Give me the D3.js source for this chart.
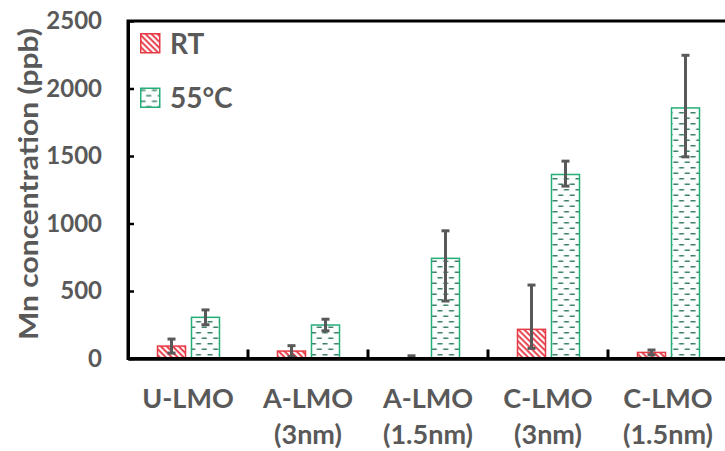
<!DOCTYPE html>
<html>
<head>
<meta charset="utf-8">
<script src="https://cdn.jsdelivr.net/npm/d3@7"></script>
<style>
  body { margin: 0; background: #ffffff; }
  text { font-family: Lato, "Open Sans", sans-serif; font-weight: bold; fill: #595959; }
</style>
</head>
<body>
<svg id="chart" width="725" height="451"></svg>
<script>
// Mn dissolution per sample, at room temperature and at 55 °C
const categories = ["U-LMO", "A-LMO (3nm)", "A-LMO (1.5nm)", "C-LMO (3nm)", "C-LMO (1.5nm)"];
const categoryLines = [["U-LMO"], ["A-LMO", "(3nm)"], ["A-LMO", "(1.5nm)"], ["C-LMO", "(3nm)"], ["C-LMO", "(1.5nm)"]];
const seriesNames = ["RT", "55°C"];

const rtValues    = [92, 55, 3, 216, 45];
const rtErrPlus   = [52, 40, 17, 328, 18];
const rtErrMinus  = [52, 40, 3, 141, 18];

const hotValues   = [305, 248, 742, 1363, 1856];
const hotErrPlus  = [55, 43, 204, 99, 390];
const hotErrMinus = [55, 43, 316, 86, 362];

const yTicks = [0, 500, 1000, 1500, 2000, 2500];
const yTitle = "Mn concentration (ppb)";

const svg = d3.select("#chart");

const x0 = d3.scaleBand().domain(categories).range([128, 728]).padding(0);
const x1 = d3.scaleBand().domain(seriesNames).range([29.5, 91.5]).paddingInner(0.176).paddingOuter(0);
const y = d3.scaleLinear().domain([0, 2500]).range([358.5, 21]);

// fill patterns
const defs = svg.append("defs");
const hatch = defs.append("pattern")
  .attr("id", "hatchRT").attr("patternUnits", "userSpaceOnUse")
  .attr("width", 4.2).attr("height", 4.2)
  .attr("patternTransform", "rotate(45)");
hatch.append("rect").attr("width", 4.2).attr("height", 4.2).attr("fill", "#ffffff");
hatch.append("rect").attr("y", 0).attr("width", 4.2).attr("height", 2).attr("fill", "#e8434f");

const dash = defs.append("pattern")
  .attr("id", "dashHot").attr("patternUnits", "userSpaceOnUse")
  .attr("width", 11.5).attr("height", 11);
dash.append("rect").attr("width", 11.5).attr("height", 11).attr("fill", "#fbfefc");
dash.append("rect").attr("x", 0.5).attr("y", 2).attr("width", 5).attr("height", 1.5).attr("fill", "#3f806a");
dash.append("rect").attr("x", 6.25).attr("y", 7.5).attr("width", 5).attr("height", 1.5).attr("fill", "#3f806a");

const series = [
  { name: seriesNames[0], values: rtValues, plus: rtErrPlus, minus: rtErrMinus, fill: "url(#hatchRT)", stroke: "#e63a44" },
  { name: seriesNames[1], values: hotValues, plus: hotErrPlus, minus: hotErrMinus, fill: "url(#dashHot)", stroke: "#25ae78" }
];

const rows = [];
series.forEach(s => categories.forEach((c, i) => rows.push({
  cat: c, name: s.name, v: s.values[i], p: s.plus[i], m: s.minus[i], fill: s.fill, stroke: s.stroke
})));

// bars
svg.append("g").selectAll("rect").data(rows).join("rect")
  .attr("x", d => x0(d.cat) + x1(d.name))
  .attr("y", d => y(d.v))
  .attr("width", x1.bandwidth())
  .attr("height", d => y(0) - y(d.v))
  .attr("fill", d => d.fill)
  .attr("stroke", d => d.stroke)
  .attr("stroke-width", 1.5);

// error bars
const eb = svg.append("g").attr("stroke", "#595959").attr("stroke-width", 3);
rows.forEach(d => {
  const cx = x0(d.cat) + x1(d.name) + x1.bandwidth() / 2;
  const top = y(d.v + d.p), bot = y(Math.max(0, d.v - d.m));
  eb.append("line").attr("x1", cx).attr("x2", cx).attr("y1", top).attr("y2", bot);
  eb.append("line").attr("x1", cx - 4).attr("x2", cx + 4).attr("y1", top).attr("y2", top);
  eb.append("line").attr("x1", cx - 4).attr("x2", cx + 4).attr("y1", bot).attr("y2", bot);
});

// frame (top border runs past the right edge)
svg.append("rect")
  .attr("x", x0.range()[0]).attr("y", y(2500))
  .attr("width", x0.range()[1] - x0.range()[0]).attr("height", y(0) - y(2500))
  .attr("fill", "none").attr("stroke", "#000").attr("stroke-width", 3);

// y axis, ticks pointing inward
const yAxis = svg.append("g").attr("transform", `translate(${x0.range()[0]},0)`)
  .call(d3.axisLeft(y).tickValues(yTicks).tickFormat(d3.format("d"))
    .tickSizeInner(-6).tickSizeOuter(0).tickPadding(26));
yAxis.select(".domain").attr("stroke", "#000").attr("stroke-width", 3);
yAxis.selectAll(".tick line").attr("stroke", "#000").attr("stroke-width", 2.5);
yAxis.selectAll(".tick text")
  .attr("fill", "#595959").style("font-family", "Lato, 'Open Sans', sans-serif")
  .style("font-weight", "bold").style("font-size", "24px");

// x axis with boundary ticks pointing up
const xAxis = svg.append("g").attr("transform", `translate(0,${y(0)})`)
  .call(d3.axisBottom(x0).tickValues([]).tickSizeOuter(0));
xAxis.select(".domain").attr("stroke", "#000").attr("stroke-width", 3.5);
xAxis.selectAll(".bnd").data(categories.slice(1)).join("line")
  .attr("class", "bnd")
  .attr("x1", d => x0(d)).attr("x2", d => x0(d))
  .attr("y1", 0).attr("y2", -9)
  .attr("stroke", "#000").attr("stroke-width", 3);

// category labels, centred under each group
const lab = svg.append("g").selectAll("text").data(categories).join("text")
  .attr("text-anchor", "middle")
  .style("font-size", "27px");
lab.each(function(d, i) {
  const t = d3.select(this);
  const cx = x0(d) + x0.bandwidth() / 2;
  categoryLines[i].forEach((ln, k) => {
    t.append("tspan").attr("x", cx).attr("y", 408 + k * 36).text(ln);
  });
});

// y axis title
svg.append("text")
  .attr("transform", "translate(38,184) rotate(-90)")
  .attr("text-anchor", "middle")
  .style("font-size", "27px")
  .attr("textLength", 312).attr("lengthAdjust", "spacingAndGlyphs")
  .text(yTitle);

// legend
const legend = svg.append("g");
series.forEach((s, i) => {
  const g = legend.append("g").attr("transform", `translate(140,${33 + i * 54.5})`);
  g.append("rect").attr("x", 0.75).attr("y", 0.75).attr("width", 19).attr("height", 19)
    .attr("fill", s.fill).attr("stroke", s.stroke).attr("stroke-width", 1.5);
  g.append("text").attr("x", 30).attr("y", 20.5).style("font-size", "28px").text(s.name);
});
</script>
</body>
</html>
